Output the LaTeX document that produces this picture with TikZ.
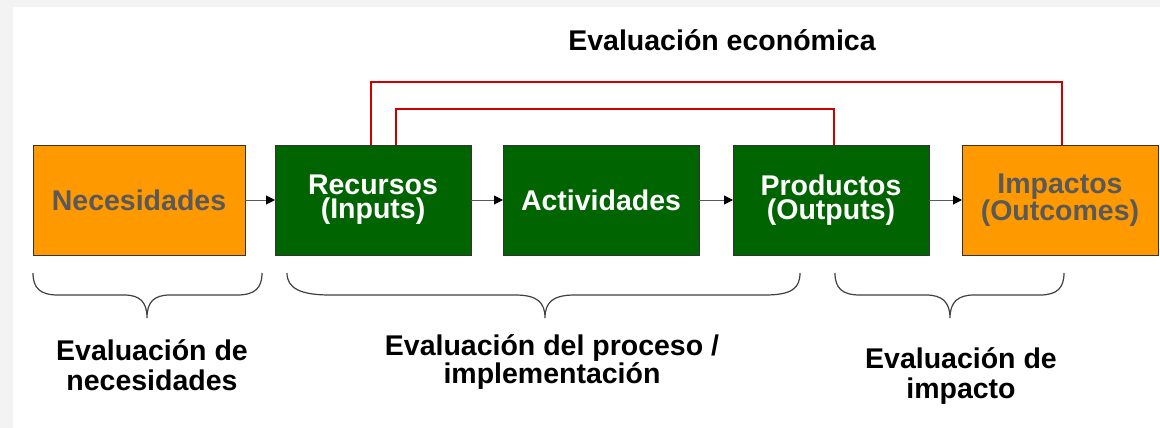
\documentclass[tikz,border=0pt]{standalone}
\usepackage{fontspec}
\setmainfont{Liberation Sans}
\usetikzlibrary{arrows.meta,calc}
\definecolor{boxgreen}{HTML}{006400}
\definecolor{boxorange}{HTML}{FF9900}
\definecolor{txtgray}{HTML}{595959}
\definecolor{redline}{HTML}{D00000}
\definecolor{bggray}{HTML}{F3F3F3}
\begin{document}
\begin{tikzpicture}[x=1pt,y=-1pt,
  greenbox/.style={draw=black!80, line width=1pt, fill=boxgreen, text=white,
    minimum width=196pt, minimum height=110pt, inner sep=0pt, outer sep=0pt,
    align=center, font=\bfseries\fontsize{28.5}{24}\selectfont},
  orangebox/.style={greenbox, fill=boxorange, text=txtgray},
  flowarrow/.style={draw=black!65, line width=1pt, -{Triangle[length=9pt,width=9pt,color=black]}},
  evalline/.style={draw=redline, line width=2.4pt},
  bracestyle/.style={draw=black!75, line width=1.2pt},
  lbl/.style={align=center, anchor=base, inner sep=0pt, text=black}]
\useasboundingbox (0,0) rectangle (1160,428);
\fill[bggray] (0,0) rectangle (1160,428);
\fill[white] (13,7) rectangle (1160,428);

\node[orangebox, minimum width=212pt] (nec) at (139,200) {Necesidades};
\node[greenbox] (rec) at (373,200) {Recursos\\(Inputs)};
\node[greenbox] (act) at (601,200) {Actividades};
\node[greenbox] (pro) at (831,200) {Productos\\(Outputs)};
\node[orangebox] (imp) at (1060,200) {Impactos\\(Outcomes)};

\draw[flowarrow] (nec) -- (rec);
\draw[flowarrow] (rec) -- (act);
\draw[flowarrow] (act) -- (pro);
\draw[flowarrow] (pro) -- (imp);

\draw[evalline] ([xshift=96pt]rec.north west) -- ++(0,-63) -| ([xshift=2pt]imp.north);
\draw[evalline] ([xshift=121pt]rec.north west) -- ++(0,-36) -| ([xshift=3pt]pro.north);

\node[lbl, font=\bfseries\fontsize{28.5}{30}\selectfont] (econ) at (722,51) {Evaluación económica};

% braces
\draw[bracestyle] (33,273) .. controls (33,288) and (40,295) .. (58,295) -- (124,295)
  .. controls (140,295) and (147,302) .. (147,318)
  .. controls (147,302) and (154,295) .. (170,295) -- (237,295)
  .. controls (255,295) and (262,288) .. (262,273);
\draw[bracestyle] (287,273) .. controls (287,288) and (300,295) .. (330,295) -- (515,295)
  .. controls (537,295) and (545,302) .. (545,318)
  .. controls (545,302) and (553,295) .. (575,295) -- (765,295)
  .. controls (792,295) and (800,288) .. (800,273);
\draw[bracestyle] (835,273) .. controls (835,288) and (842,295) .. (860,295) -- (926,295)
  .. controls (942,295) and (950,302) .. (950,318)
  .. controls (950,302) and (958,295) .. (974,295) -- (1040,295)
  .. controls (1057,295) and (1064,288) .. (1064,273);

\node[lbl, font=\bfseries\fontsize{28.5}{30}\selectfont] (lneed) at (152,390) {Evaluación de\\necesidades};
\node[lbl, font=\bfseries\fontsize{28.5}{21.5}\selectfont] (lproc) at (552,383) {Evaluación del proceso /\\implementación};
\node[lbl, font=\bfseries\fontsize{28.5}{30}\selectfont] (limp) at (961,398) {Evaluación de\\impacto};
\end{tikzpicture}
\end{document}
